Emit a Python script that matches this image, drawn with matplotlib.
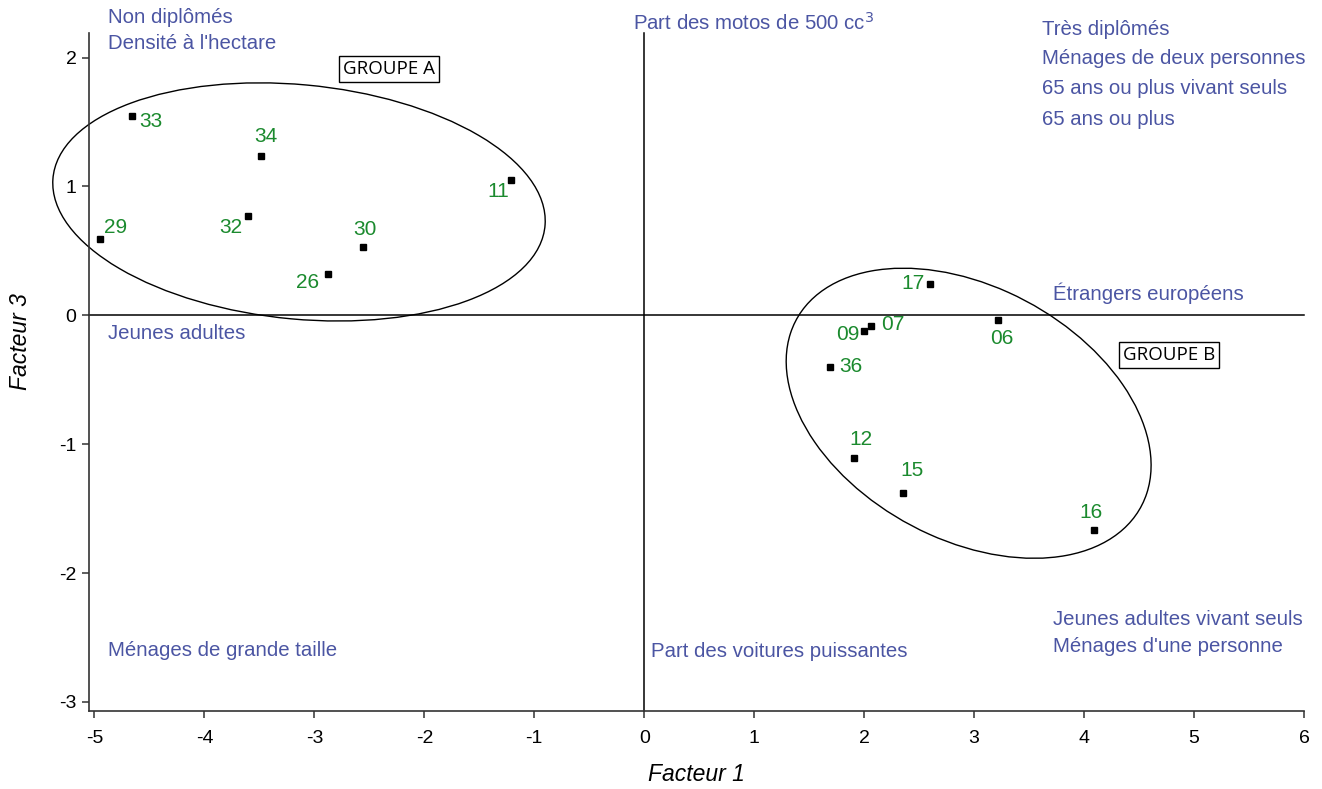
import numpy as np
import matplotlib.pyplot as plt
from matplotlib.patches import Ellipse

# Factor scores of the zones (Facteur 1, Facteur 3)
zone_labels = ["33", "34", "11", "29", "32", "30", "26",
               "17", "06", "07", "09", "36", "12", "15", "16"]
facteur1 = [-4.66, -3.49, -1.21, -4.95, -3.60, -2.56, -2.88,
            2.60, 3.22, 2.06, 2.00, 1.69, 1.91, 2.35, 4.09]
facteur3 = [1.55, 1.24, 1.05, 0.59, 0.77, 0.53, 0.32,
            0.24, -0.04, -0.08, -0.12, -0.40, -1.11, -1.38, -1.67]

# Variables placed at the edges of the plane
var_labels = ["Non diplômés", "Densité à l'hectare", r"Part des motos de 500 cc$^3$",
              "Très diplômés", "Ménages de deux personnes",
              "65 ans ou plus vivant seuls", "65 ans ou plus",
              "Étrangers européens", "Jeunes adultes",
              "Ménages de grande taille", "Part des voitures puissantes",
              "Jeunes adultes vivant seuls", "Ménages d'une personne"]
var_x = [-4.88, -4.88, -0.10, 3.62, 3.62, 3.62, 3.62, 3.72, -4.88, -4.88, 0.06, 3.72, 3.72]
var_y = [2.31, 2.11, 2.27, 2.22, 1.99, 1.76, 1.52, 0.17, -0.14, -2.60, -2.61, -2.36, -2.57]

# Groups: centre, width, height, angle (data units)
group_names = ["GROUPE A", "GROUPE B"]
group_center = [(-3.14, 0.88), (2.95, -0.76)]
group_size = [(4.49, 1.82), (3.47, 2.01)]
group_angle = [-4.5, -21.0]
group_box = [(-2.32, 1.91), (4.77, -0.31)]

# label offsets in pixels (dx, dy) and alignment
label_pos = {
    "33": (7, -6, "left"), "34": (5, 19, "center"), "11": (-2, -11, "right"),
    "29": (4, 12, "left"), "32": (-6, -11, "right"), "30": (2, 18, "center"),
    "26": (-8, -8, "right"), "17": (-6, 1, "right"), "06": (3, -18, "center"),
    "07": (10, 1, "left"), "09": (-5, -4, "right"), "36": (9, 0, "left"),
    "12": (7, 19, "center"), "15": (9, 23, "center"), "16": (-3, 18, "center"),
}

blue = "#4b55a3"
green = "#1b8a2e"
plt.rcParams['font.family'] = ['Liberation Sans', 'DejaVu Sans']
plt.rcParams['axes.unicode_minus'] = False

fig = plt.figure(figsize=(13.22, 7.89), dpi=100)
ax = fig.add_axes([0.0673, 0.099, 0.9191, 0.859])
ax.set_xlim(-5.05, 6.0)
ax.set_ylim(-3.07, 2.19)

for s in ["top", "right"]:
    ax.spines[s].set_visible(False)
for s in ["left", "bottom"]:
    ax.spines[s].set_color("#333333")
    ax.spines[s].set_linewidth(1.2)

ax.set_xticks(range(-5, 7))
ax.set_yticks(range(-3, 3))
ax.tick_params(direction="out", length=5, width=1.1, color="#333333",
               labelsize=14, pad=9)
ax.tick_params(axis="y", pad=4)

ax.axhline(0, color="black", lw=1.1, clip_on=False)
ax.axvline(0, color="black", lw=1.1, clip_on=False)

# group ellipses and boxes
for name, c, (w, h), ang, bx in zip(group_names, group_center, group_size,
                                     group_angle, group_box):
    ax.add_patch(Ellipse(c, w, h, angle=ang, fill=False, ec="black", lw=1.0,
                         clip_on=False))
    ax.text(bx[0], bx[1], name, ha="center", va="center", fontsize=13.5,
            family=["Open Sans", "DejaVu Sans"],
            bbox=dict(boxstyle="square,pad=0.22", fc="white", ec="black", lw=1.0))

ax.plot(facteur1, facteur3, "s", color="black", ms=4.5, zorder=5)
for lab, x, y in zip(zone_labels, facteur1, facteur3):
    dx, dy, ha = label_pos[lab]
    ax.annotate(lab, (x, y), xytext=(dx, dy), textcoords="offset pixels",
                ha=ha, va="center", color=green, fontsize=15)

for t, x, y in zip(var_labels, var_x, var_y):
    ax.text(x, y, t, color=blue, fontsize=14.7, ha="left", va="center",
            clip_on=False)

ax.set_xlabel("Facteur 1", fontsize=16.5, style="italic", labelpad=11)
ax.set_ylabel("Facteur 3", fontsize=16.5, style="italic")
ax.yaxis.set_label_coords(-0.047, 0.545)

fig.savefig("out.png", dpi=100, facecolor="white")
